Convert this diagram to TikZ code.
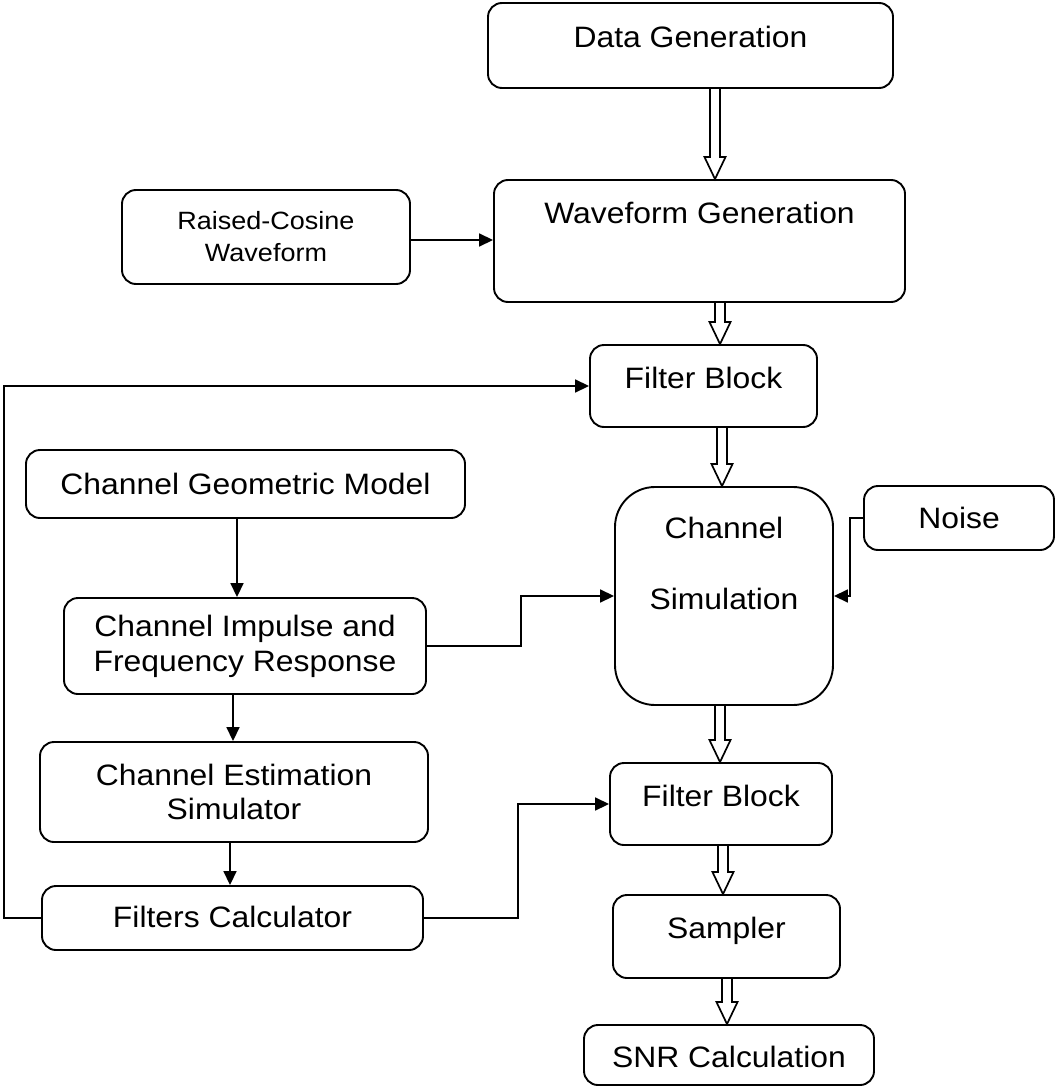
\documentclass[tikz,border=0pt]{standalone}
\usepackage{fontspec}
\setmainfont{Liberation Sans}[FakeStretch=1.08]
\usetikzlibrary{arrows.meta,calc}
\newcommand\hollowarrow[3]{\draw[harr] let \p1=(#2.south), \p2=(#3.north) in
  (#1pt-5pt,\y1) -- (#1pt-5pt,\y2+22pt) -- (#1pt-10.5pt,\y2+22pt) -- (#1pt,\y2)
  -- (#1pt+10.5pt,\y2+22pt) -- (#1pt+5pt,\y2+22pt) -- (#1pt+5pt,\y1);}
\begin{document}
\begin{tikzpicture}[x=1pt,y=-1pt,
  box/.style={draw, line width=1.9pt, rounded corners=14pt, inner sep=0pt,
    font=\fontsize{29.5}{35}\selectfont, align=center},
  arr/.style={line width=1.7pt, -{Triangle[length=14pt,width=13pt]}},
  harr/.style={line width=1.7pt, line join=miter}]
\useasboundingbox (0,0) rectangle (1055,1086);

\node[box, minimum width=405, minimum height=85, text height=44.5, text depth=40.5] (data) at (690.5,45.5) {Data Generation};
\node[box, minimum width=411, minimum height=122, text height=43.5, text depth=78.5] (wave) at (699.5,241) {Waveform Generation};
\node[box, minimum width=288, minimum height=94, font=\fontsize{25}{32}\selectfont] (rc) at (266,237) {Raised-Cosine\\Waveform};
\node[box, minimum width=227, minimum height=82, text height=43.5, text depth=38.5] (filt1) at (703.5,386) {Filter Block};
\node[box, minimum width=439, minimum height=68, text height=44, text depth=24] (geom) at (245.5,484) {Channel Geometric Model};
\node[box, minimum width=218, minimum height=218, rounded corners=40pt] (chsim) at (724,596) {Channel\\[36pt]Simulation\\[30pt]\mbox{}};
\node[box, minimum width=190, minimum height=64, text height=42.5, text depth=21.5] (noise) at (959,518) {Noise};
\node[box, minimum width=362, minimum height=96] (imp) at (245,646) {Channel Impulse and\\Frequency Response};
\node[box, minimum width=388, minimum height=100, font=\fontsize{29.5}{34}\selectfont] (est) at (234,792) {Channel Estimation\\Simulator};
\node[box, minimum width=222, minimum height=82, text height=43.5, text depth=38.5] (filt2) at (721,804) {Filter Block};
\node[box, minimum width=381, minimum height=64, text height=41.5, text depth=22.5] (fcalc) at (232.5,918) {Filters Calculator};
\node[box, minimum width=227, minimum height=83, text height=43.5, text depth=39.5] (sampler) at (726.5,936.5) {Sampler};
\node[box, minimum width=290, minimum height=60, text height=42.5, text depth=17.5] (snr) at (729,1055) {SNR Calculation};

\hollowarrow{715}{data}{wave}
\hollowarrow{720}{wave}{filt1}
\hollowarrow{722}{filt1}{chsim}
\hollowarrow{720}{chsim}{filt2}
\hollowarrow{723}{filt2}{sampler}
\hollowarrow{727}{sampler}{snr}

\draw[arr] ([yshift=-3pt]rc.east) -- ([yshift=-3pt]rc.east -| wave.west);
\draw[arr] ([xshift=-8.5pt]geom.south) -- ([xshift=-8.5pt]geom.south |- imp.north);
\draw[arr] ([xshift=-12pt]imp.south) -- ([xshift=-12pt]imp.south |- est.north);
\draw[arr] ([xshift=-4pt]est.south) -- ([xshift=-4pt]est.south |- fcalc.north);
\draw[arr] (fcalc.west) -- ++(-37,0) |- (filt1.west);
\draw[arr] (imp.east) -- ++(94,0) |- (chsim.west);
\draw[arr] (fcalc.east) -- ++(94,0) |- (filt2.west);
\draw[arr] (noise.west) -- ++(-13,0) |- (chsim.east);
\end{tikzpicture}
\end{document}
